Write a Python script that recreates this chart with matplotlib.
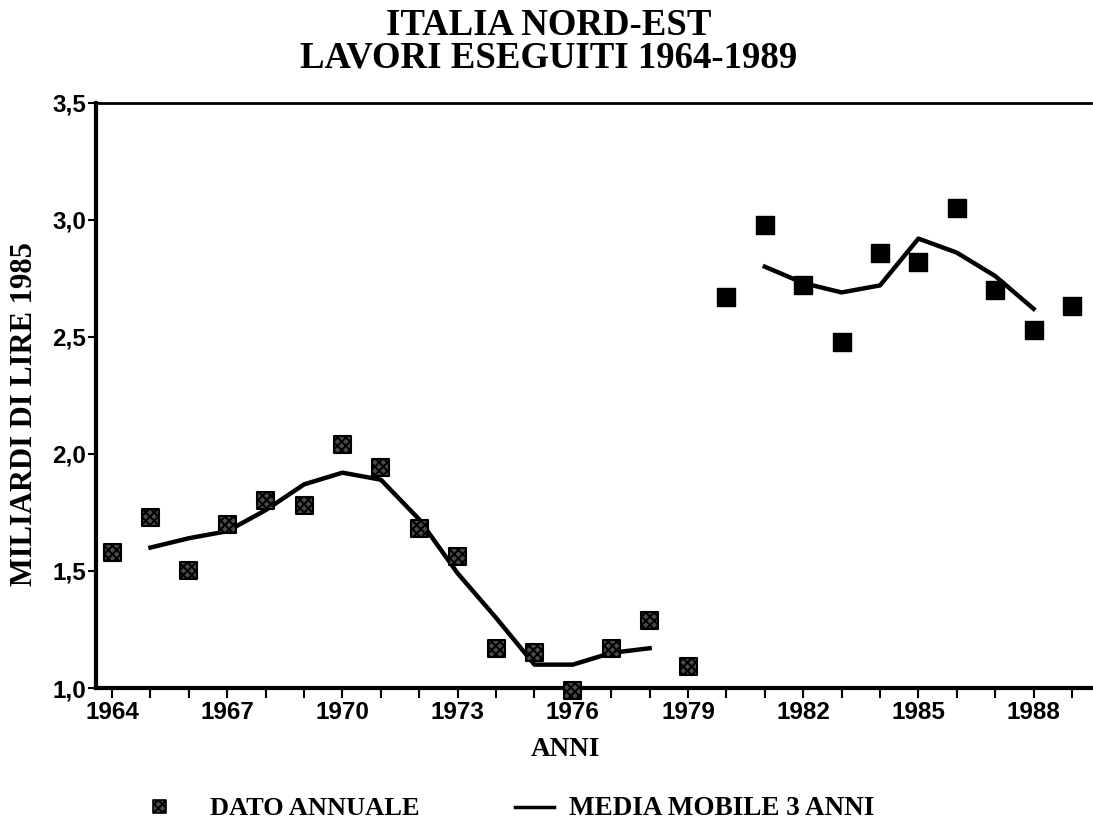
import numpy as np
import matplotlib
matplotlib.use("Agg")
from matplotlib import pyplot as plt
from matplotlib.ticker import MultipleLocator, FuncFormatter
from matplotlib.lines import Line2D

# annual data
years_a = [1964, 1965, 1966, 1967, 1968, 1969, 1970, 1971, 1972, 1973,
           1974, 1975, 1976, 1977, 1978, 1979]
vals_a = [1.58, 1.73, 1.50, 1.70, 1.80, 1.78, 2.04, 1.94, 1.68, 1.56,
          1.17, 1.15, 0.99, 1.17, 1.29, 1.09]
years_b = [1980, 1981, 1982, 1983, 1984, 1985, 1986, 1987, 1988, 1989]
vals_b = [2.67, 2.98, 2.72, 2.48, 2.86, 2.82, 3.05, 2.70, 2.53, 2.63]

# 3-year moving average lines
ma_years_a = [1965, 1966, 1967, 1968, 1969, 1970, 1971, 1972, 1973, 1974,
              1975, 1976, 1977, 1978]
ma_vals_a = [1.60, 1.64, 1.67, 1.76, 1.87, 1.92, 1.89, 1.72, 1.49, 1.30,
             1.10, 1.10, 1.15, 1.17]
ma_years_b = [1981, 1982, 1983, 1984, 1985, 1986, 1987, 1988]
ma_vals_b = [2.80, 2.73, 2.69, 2.72, 2.92, 2.86, 2.76, 2.62]

title = "ITALIA NORD-EST\nLAVORI ESEGUITI 1964-1989"
serif = "Liberation Serif"
sans = "Liberation Sans"

plt.rcParams["hatch.linewidth"] = 1.4

fig = plt.figure(figsize=(10.93, 8.36), dpi=100)
ax = fig.add_axes([0.0878, 0.177, 0.9102, 0.7])

ax.plot(ma_years_a, ma_vals_a, color="black", lw=3.2, solid_joinstyle="round", zorder=2)
ax.plot(ma_years_b, ma_vals_b, color="black", lw=3.2, solid_joinstyle="round", zorder=2)

# speckled squares for the first period, solid for the second
ax.scatter(years_a, vals_a, marker="s", s=150, facecolor="#4a4a4a", edgecolors="black",
           linewidths=1.5, hatch="xxxx", zorder=3, clip_on=False)
ax.scatter(years_b, vals_b, marker="s", s=170, color="black", zorder=3, clip_on=False)

ax.set_xlim(1963.58, 1989.49)
ax.set_ylim(1.0, 3.5)
ax.xaxis.set_minor_locator(MultipleLocator(1))
ax.set_xticks(np.arange(1964, 1990, 3))
ax.yaxis.set_major_locator(MultipleLocator(0.5))
ax.yaxis.set_major_formatter(FuncFormatter(lambda v, p: f"{v:.1f}".replace(".", ",")))

for lab in ax.get_xticklabels() + ax.get_yticklabels():
    lab.set_fontfamily(sans)
    lab.set_fontweight("bold")
    lab.set_fontsize(17.5)
ax.tick_params(axis="x", which="both", direction="out", length=7, width=1.5, pad=2)
ax.tick_params(axis="y", direction="out", length=6, width=1.5, pad=1)

ax.spines["left"].set_linewidth(3)
ax.spines["bottom"].set_linewidth(3)
ax.spines["top"].set_linewidth(2)
ax.spines["right"].set_visible(False)

fig.text(0.502, 0.95, title, ha="center", va="center", fontfamily=serif,
         fontweight="bold", fontsize=26.5, linespacing=0.92)
fig.text(0.022, 0.505, "MILIARDI DI LIRE 1985", rotation=90, ha="center", va="center",
         fontfamily=serif, fontweight="bold", fontsize=22)
fig.text(0.517, 0.103, "ANNI", ha="center", va="center", fontfamily=serif,
         fontweight="bold", fontsize=19.5)

# legend row
fig.text(0.192, 0.033, "DATO ANNUALE", ha="left", va="center", fontfamily=serif,
         fontweight="bold", fontsize=19)
fig.text(0.521, 0.033, "MEDIA MOBILE 3 ANNI", ha="left", va="center", fontfamily=serif,
         fontweight="bold", fontsize=19.5)
ax.scatter([0.146], [0.035], marker="s", s=90, facecolor="#4a4a4a", edgecolors="black",
           linewidths=1.2, hatch="xxxx", transform=fig.transFigure, clip_on=False, zorder=5)
fig.add_artist(Line2D([0.471, 0.507], [0.035, 0.035], color="black", lw=2.5,
                      transform=fig.transFigure))

fig.savefig("out.png", dpi=100)
